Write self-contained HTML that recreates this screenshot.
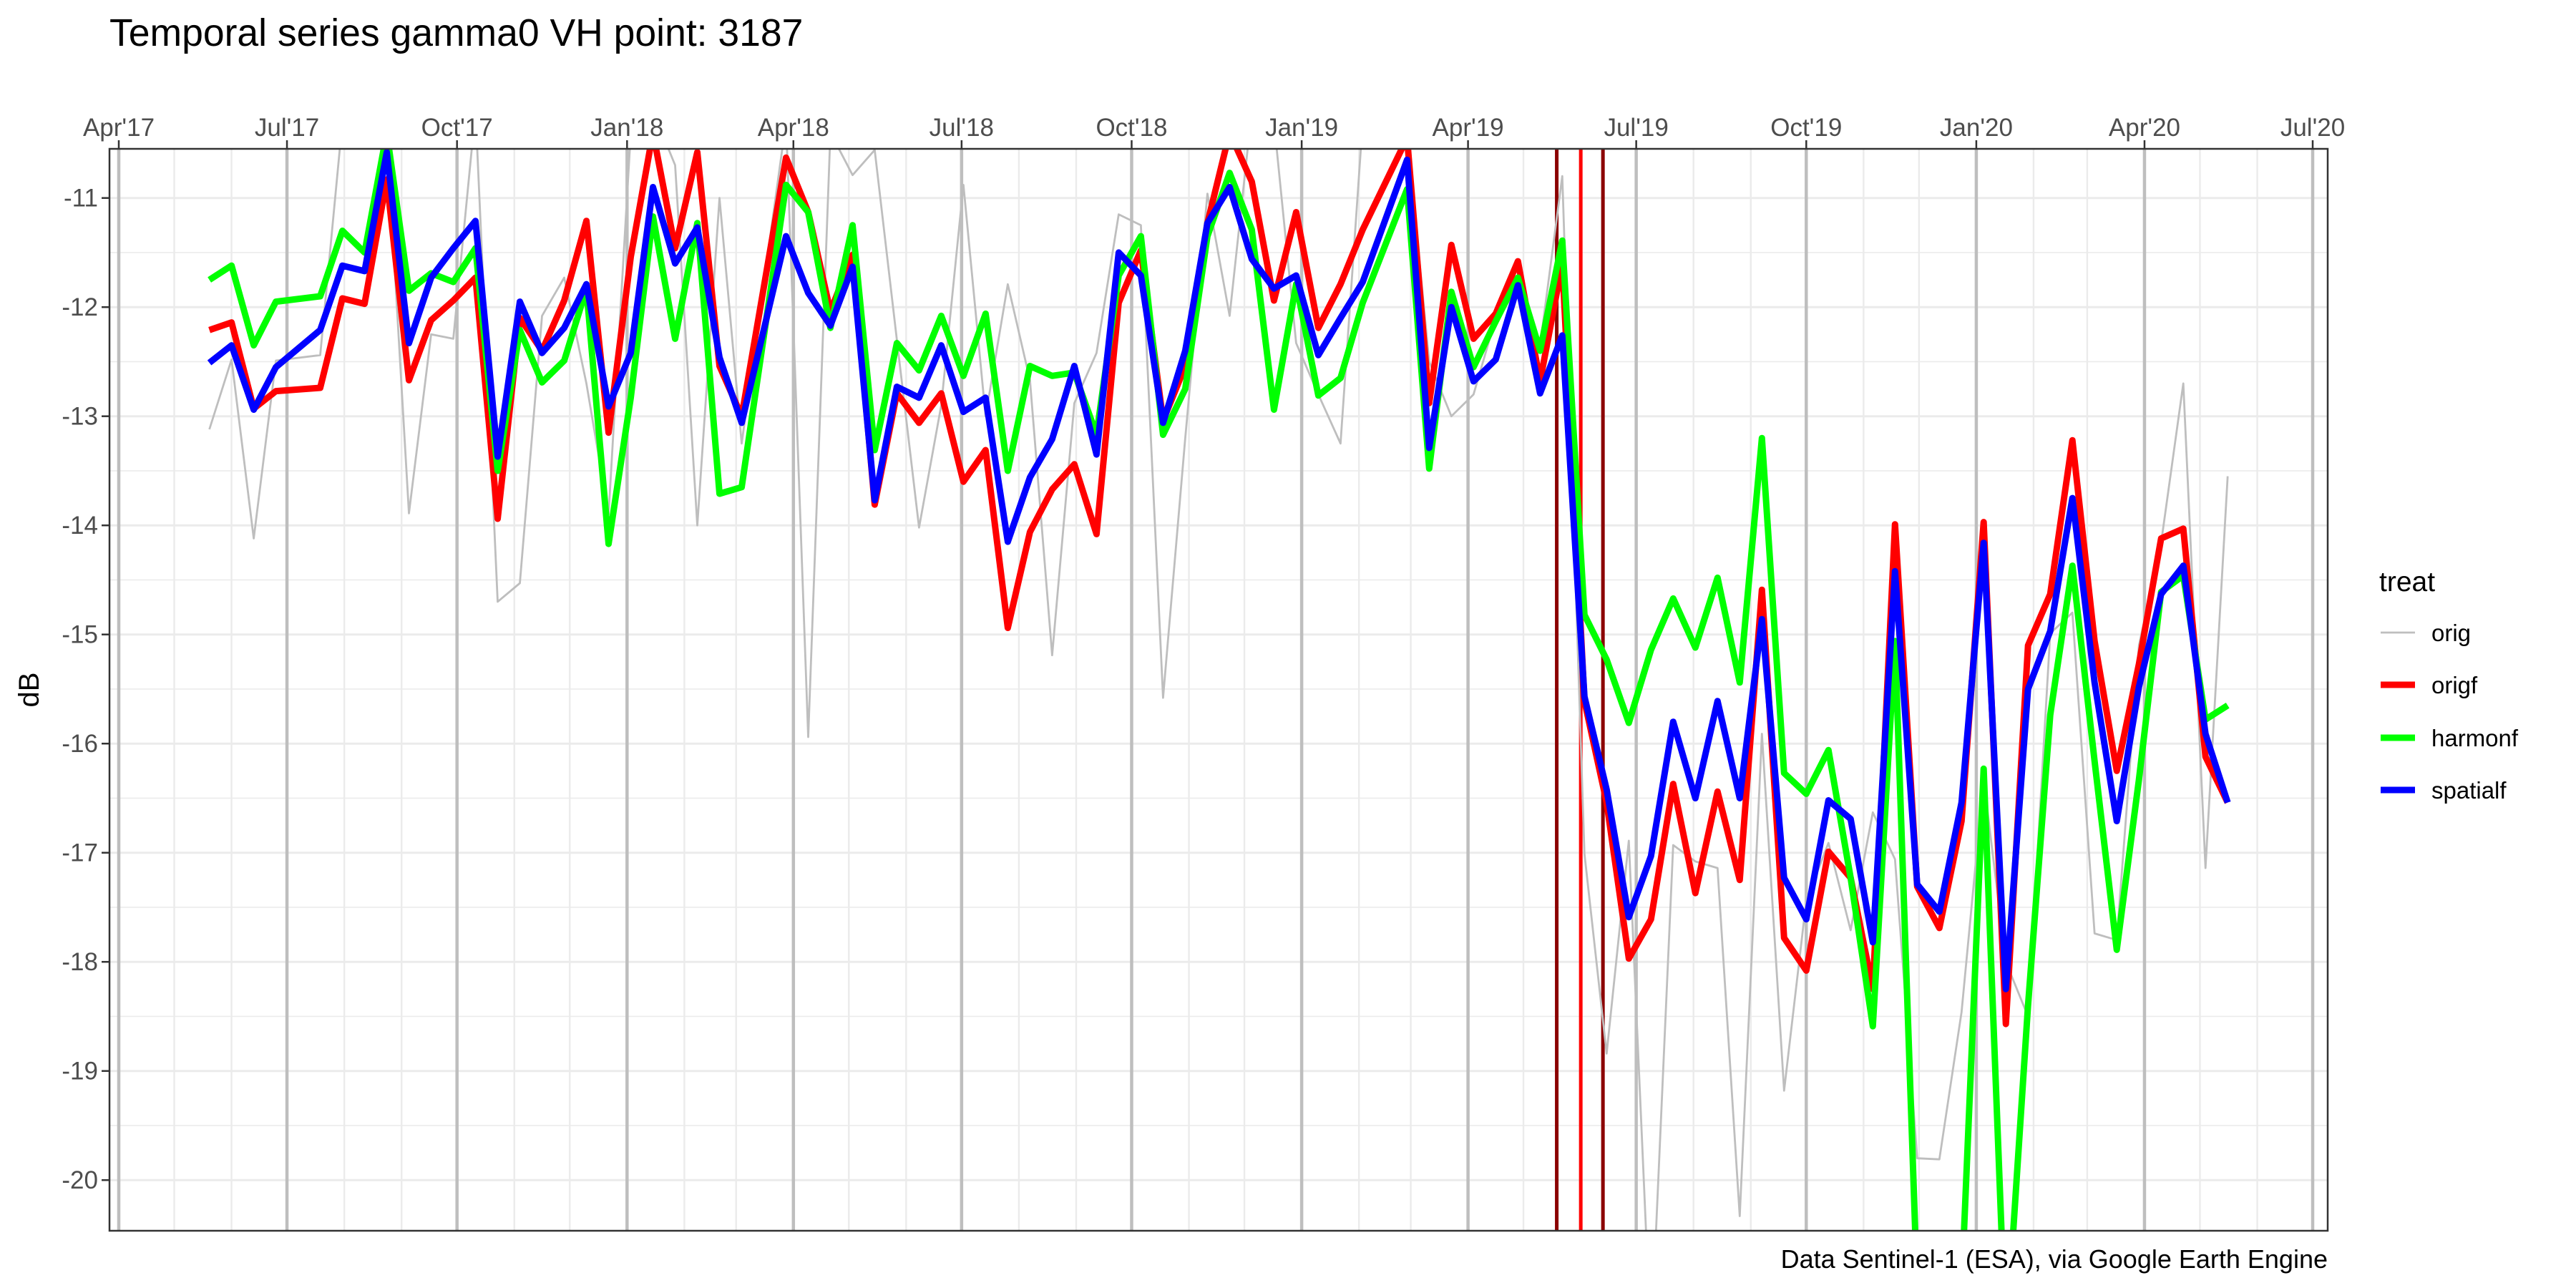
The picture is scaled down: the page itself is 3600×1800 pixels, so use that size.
<!DOCTYPE html>
<html><head><meta charset="utf-8"><title>Temporal series gamma0 VH point: 3187</title>
<style>html,body{margin:0;padding:0;background:#fff}svg{display:block;font-family:"Liberation Sans",Arial,sans-serif}</style>
</head><body>
<svg id="chart" width="3600" height="1800" viewBox="0 0 3600 1800" xmlns="http://www.w3.org/2000/svg">
<rect width="3600" height="1800" fill="#fff"/>
<text x="153" y="64" font-size="53.5" fill="#000">Temporal series gamma0 VH point: 3187</text>
<defs><clipPath id="pc"><rect x="153" y="208" width="3100" height="1512"/></clipPath></defs>
<g id="grid"></g>
<g id="vlines" clip-path="url(#pc)"></g>
<g id="series" clip-path="url(#pc)"></g>
<rect x="153" y="208" width="3100" height="1512" fill="none" stroke="#333" stroke-width="2.5"/>
<g id="axes"></g>
<text transform="translate(54,964) rotate(-90)" font-size="40" text-anchor="middle" fill="#000">dB</text>
<text x="3253" y="1772" font-size="36" text-anchor="end" fill="#000">Data Sentinel-1 (ESA), via Google Earth Engine</text>
<g id="legend"></g>
</svg>
<script>
const days=[49,61,73,85,109,121,133,145,157,169,181,193,205,217,229,241,253,265,277,289,301,313,325,337,361,373,385,397,409,421,433,445,457,469,481,493,505,517,529,541,553,565,577,589,601,613,625,637,649,661,673,697,709,721,733,745,757,769,781,793,805,817,829,841,853,865,877,889,901,913,925,937,949,961,973,985,997,1009,1021,1033,1045,1057,1069,1081,1093,1105,1117,1129,1141];
const orig=[-13.12,-12.48,-14.12,-12.49,-12.44,-10.3,-10.2,-10.4,-13.89,-12.25,-12.29,-10.2,-14.7,-14.53,-12.08,-11.73,-12.7,-13.9,-10.4,-10.2,-10.7,-14.0,-11.0,-13.25,-10.3,-15.94,-10.4,-10.79,-10.56,-12.3,-14.02,-12.9,-10.88,-13.0,-11.79,-12.67,-15.19,-12.88,-12.42,-11.15,-11.25,-15.58,-13.2,-10.96,-12.08,-10.2,-10.3,-12.33,-12.8,-13.25,-10.3,-10.4,-12.5,-13.0,-12.8,-12.1,-11.85,-12.35,-10.8,-17.01,-18.84,-16.89,-21.5,-16.93,-17.08,-17.14,-20.33,-15.91,-19.18,-17.44,-16.91,-17.71,-16.63,-17.06,-19.8,-19.81,-18.46,-16.33,-18.0,-18.5,-14.99,-14.8,-17.74,-17.8,-15.1,-14.16,-12.7,-17.14,-13.55];
const origf=[-12.21,-12.14,-12.93,-12.77,-12.74,-11.92,-11.97,-10.83,-12.67,-12.12,-11.94,-11.73,-13.94,-12.1,-12.4,-11.94,-11.21,-13.15,-11.54,-10.4,-11.46,-10.58,-12.54,-13.0,-10.63,-11.13,-12.04,-11.52,-13.81,-12.79,-13.06,-12.79,-13.6,-13.31,-14.94,-14.06,-13.67,-13.44,-14.08,-11.96,-11.48,-13.04,-12.54,-11.23,-10.4,-10.85,-11.94,-11.13,-12.19,-11.79,-11.29,-10.45,-12.88,-11.43,-12.29,-12.06,-11.58,-12.68,-11.6,-15.61,-16.54,-17.97,-17.61,-16.37,-17.37,-16.44,-17.25,-14.59,-17.78,-18.08,-16.99,-17.23,-18.25,-13.99,-17.31,-17.69,-16.71,-13.97,-18.57,-15.1,-14.63,-13.22,-15.06,-16.25,-15.27,-14.12,-14.03,-16.12,-16.54];
const harmonf=[-11.75,-11.62,-12.35,-11.95,-11.9,-11.3,-11.5,-10.4,-11.85,-11.69,-11.77,-11.46,-13.5,-12.21,-12.69,-12.49,-11.83,-14.17,-12.83,-11.17,-12.29,-11.23,-13.71,-13.65,-10.88,-11.13,-12.19,-11.25,-13.31,-12.33,-12.58,-12.08,-12.63,-12.06,-13.5,-12.54,-12.63,-12.6,-13.17,-11.71,-11.35,-13.17,-12.75,-11.35,-10.77,-11.29,-12.94,-11.79,-12.81,-12.65,-11.96,-10.92,-13.48,-11.86,-12.55,-12.13,-11.73,-12.4,-11.39,-14.82,-15.23,-15.81,-15.14,-14.67,-15.12,-14.48,-15.44,-13.2,-16.27,-16.46,-16.06,-17.23,-18.59,-15.06,-21.0,-21.2,-21.0,-16.23,-21.5,-18.4,-15.74,-14.37,-16.16,-17.89,-16.33,-14.61,-14.46,-15.78,-15.65];
const spatialf=[-12.51,-12.35,-12.94,-12.55,-12.21,-11.62,-11.67,-10.58,-12.33,-11.73,-11.46,-11.21,-13.37,-11.95,-12.42,-12.19,-11.79,-12.91,-12.42,-10.9,-11.6,-11.27,-12.46,-13.06,-11.35,-11.87,-12.17,-11.63,-13.77,-12.73,-12.83,-12.35,-12.96,-12.83,-14.15,-13.56,-13.21,-12.54,-13.35,-11.5,-11.71,-13.06,-12.4,-11.23,-10.9,-11.56,-11.83,-11.71,-12.44,-12.1,-11.77,-10.65,-13.29,-12.0,-12.68,-12.48,-11.8,-12.79,-12.26,-15.57,-16.42,-17.59,-17.03,-15.8,-16.5,-15.61,-16.5,-14.86,-17.23,-17.61,-16.52,-16.69,-17.82,-14.42,-17.29,-17.54,-16.54,-14.16,-18.25,-15.5,-14.97,-13.75,-15.44,-16.71,-15.48,-14.63,-14.37,-15.91,-16.54];
const seriesNames=["orig","origf","harmonf","spatialf"];
const yTicks=[-11,-12,-13,-14,-15,-16,-17,-18,-19,-20];
const xTickLabels=["Apr'17","Jul'17","Oct'17","Jan'18","Apr'18","Jul'18","Oct'18","Jan'19","Apr'19","Jul'19","Oct'19","Jan'20","Apr'20","Jul'20"];
const xTickDates=["2017-04-01","2017-07-01","2017-10-01","2018-01-01","2018-04-01","2018-07-01","2018-10-01","2019-01-01","2019-04-01","2019-07-01","2019-10-01","2020-01-01","2020-04-01","2020-07-01"];
const eventDates=["2019-05-19","2019-06-01","2019-06-13"];

const NS="http://www.w3.org/2000/svg";
const PL=153,PR=3253,PT=208,PB=1720;
const base=Date.UTC(2017,3,1);
function dayOf(s){const p=s.split('-');return (Date.UTC(+p[0],+p[1]-1,+p[2])-base)/86400000;}
function xS(d){return 166+d*2.583;}
function yS(v){return 276.7+(-11-v)*152.5;}
function mk(tag,attrs,parent){const e=document.createElementNS(NS,tag);for(const k in attrs)e.setAttribute(k,attrs[k]);parent.appendChild(e);return e;}
const grid=document.getElementById('grid'),axes=document.getElementById('axes');
for(let v=-10.5;v>=-20.5;v-=0.5){const y=yS(v);if(y<PT||y>PB)continue;
 const l=mk('line',{x1:PL,x2:PR,y1:y,y2:y,stroke:'#ebebeb','stroke-width':Number.isInteger(v)?3:1.6},grid);
 
 }
for(let yr=2017;yr<=2020;yr++)for(let m=0;m<12;m++){const d=(Date.UTC(yr,m,1)-base)/86400000;const x=xS(d);if(x<PL||x>PR)continue;
 const l=mk('line',{x1:x,x2:x,y1:PT,y2:PB,stroke:'#ebebeb','stroke-width':2.4},grid);
 
 }
xTickDates.forEach((s,i)=>{const x=xS(dayOf(s));
 const l=mk('line',{x1:x,x2:x,y1:PT,y2:PB,stroke:'#bebebe','stroke-width':4.5},grid);
 
 
 const t=mk('line',{x1:x,x2:x,y1:PT-12,y2:PT,stroke:'#333','stroke-width':2.5},axes);
 
 
 const tx=mk('text',{x:x,y:190,'font-size':35,'text-anchor':'middle',fill:'#4d4d4d'},axes);tx.textContent=xTickLabels[i];
 
 });
yTicks.forEach(v=>{const y=yS(v);
 const t=mk('line',{x1:PL-11,x2:PL,y1:y,y2:y,stroke:'#333','stroke-width':2.5},axes);
 
 
 const tx=mk('text',{x:PL-16,y:y+12,'font-size':35,'text-anchor':'end',fill:'#4d4d4d'},axes);tx.textContent=String(v);
 
 });
const vl=document.getElementById('vlines');
eventDates.forEach((s,i)=>{const x=xS(dayOf(s));
 const l=mk('line',{x1:x,x2:x,y1:PT,y2:PB,stroke:i===1?'#ff0000':'#8b0000','stroke-width':5},vl);
 
 });
const sg=document.getElementById('series');
const seriesVals=[orig,origf,harmonf,spatialf];
const colors=['#bebebe','#ff0000','#00ff00','#0000ff'];
const widths=[2.8,9,9,9];
seriesVals.forEach((vals,si)=>{const pts=vals.map((v,i)=>xS(days[i]).toFixed(1)+','+yS(v).toFixed(1)).join(' ');
 const p=mk('polyline',{points:pts,fill:'none',stroke:colors[si],'stroke-width':widths[si],'stroke-linejoin':'round','stroke-linecap':'butt'},sg);
 
 });
const lg=document.getElementById('legend');
const lt=mk('text',{x:3325,y:826,'font-size':39,fill:'#000'},lg);lt.textContent='treat';


const ly=[884,957,1031,1104];
seriesNames.forEach((n,i)=>{const g=mk('g',{},lg);
 
 
 mk('line',{x1:3327,x2:3375,y1:ly[i],y2:ly[i],stroke:colors[i],'stroke-width':widths[i]},g);
 const t=mk('text',{x:3398,y:ly[i]+12,'font-size':33,fill:'#000'},g);t.textContent=n;});
</script>
</body></html>
